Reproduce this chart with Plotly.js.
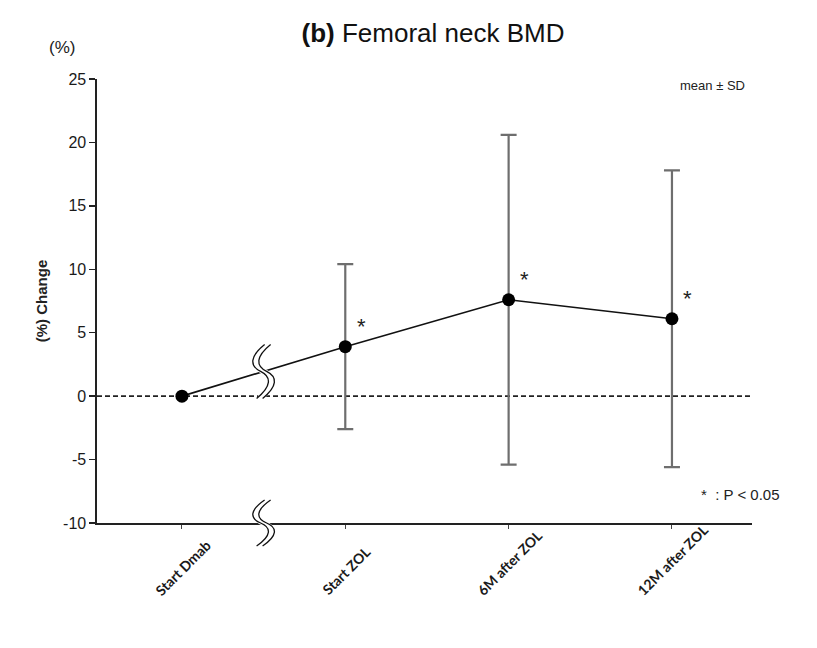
<!DOCTYPE html>
<html>
<head>
<meta charset="utf-8">
<script src="https://cdn.plot.ly/plotly-3.0.1.min.js"></script>
<style>
  html, body { margin: 0; padding: 0; background: #fff; }
  #chart { width: 817px; height: 648px; }
</style>
</head>
<body>
<div id="chart"></div>
<script>
// Time points and femoral neck BMD change (%), mean and SD
const categories = ['Start Dmab', 'Start ZOL', '6M after ZOL', '12M after ZOL'];
const positions = [0, 1, 2, 3];
const meanChange = [0, 3.9, 7.6, 6.1];
const sdChange = [0, 6.5, 13.0, 11.7];
const significant = [false, true, true, true];
const yTicks = [-10, -5, 0, 5, 10, 15, 20, 25];
const yTickText = ['-10', '-5', '0', '5', '10', '15', '20', '25'];

const FONT = 'Liberation Sans, Arial, sans-serif';
const LABEL_FONT = 'Lato, Liberation Sans, sans-serif';

// points that carry an SD bar (baseline has none)
const errIdx = positions.filter(i => sdChange[i] > 0);

const errorTrace = {
  x: errIdx.map(i => positions[i]),
  y: errIdx.map(i => meanChange[i]),
  type: 'scatter',
  mode: 'markers',
  marker: { color: 'rgba(0,0,0,0)', size: 1 },
  error_y: {
    type: 'data',
    array: errIdx.map(i => sdChange[i]),
    symmetric: true,
    color: '#6e6e6e',
    thickness: 2.2,
    width: 8
  },
  hoverinfo: 'skip',
  showlegend: false
};

const meanTrace = {
  x: positions,
  y: meanChange,
  type: 'scatter',
  mode: 'lines+markers',
  line: { color: '#111', width: 1.6 },
  marker: { color: '#000', size: 13 },
  showlegend: false
};

// double wavy axis-break symbol, drawn in pixels around an anchor point
function wave(dx, h) {
  const a = h / 2;
  return `M ${dx + 4},${a} C ${dx - 11},${a * 0.55} ${dx - 11},${a * 0.2} ${dx},0 ` +
         `C ${dx + 11},${-a * 0.2} ${dx + 11},${-a * 0.55} ${dx - 4},${-a}`;
}
function breakMark(xa, yref, ya, h) {
  const base = { type: 'path', xref: 'x', yref: yref, xsizemode: 'pixel', ysizemode: 'pixel',
                 xanchor: xa, yanchor: ya, layer: 'above' };
  return [
    Object.assign({}, base, { path: wave(0, h), line: { color: '#fff', width: 6 } }),
    Object.assign({}, base, { path: wave(-3, h), line: { color: '#111', width: 1.3 } }),
    Object.assign({}, base, { path: wave(3, h), line: { color: '#111', width: 1.3 } })
  ];
}

const breakX = (positions[0] + positions[1]) / 2;
const breakY = (meanChange[0] + meanChange[1]) / 2;

const shapes = [
  { type: 'line', xref: 'paper', yref: 'y', x0: 0, x1: 1, y0: 0, y1: 0,
    line: { color: '#222', width: 1.6, dash: '5px,3px' }, layer: 'below' },
  ...breakMark(breakX, 'y', breakY, 54),
  // on the x axis line itself (paper y = 0 keeps it from being clipped)
  ...breakMark(breakX, 'paper', 0, 46)
];

const annotations = positions.filter(i => significant[i]).map(i => ({
  x: positions[i], y: meanChange[i], xref: 'x', yref: 'y',
  text: '*', showarrow: false, xshift: 16, yshift: 20,
  font: { family: FONT, size: 22, color: '#222' }
}));

// slanted category labels, bottom-aligned below the axis
positions.forEach(i => {
  annotations.push({
    x: positions[i], y: 0, xref: 'x', yref: 'paper',
    text: categories[i], textangle: -45, showarrow: false,
    xanchor: 'center', yanchor: 'bottom', xshift: 1, yshift: -78,
    font: { family: LABEL_FONT, size: 14, color: '#1a1a1a', weight: 'bold' }
  });
});

annotations.push(
  { xref: 'paper', yref: 'paper', x: -0.053, y: 1.072, xanchor: 'center', yanchor: 'middle',
    text: '(%)', showarrow: false,
    font: { family: FONT, size: 17, color: '#222' } },
  { xref: 'paper', yref: 'paper', x: 0.939, y: 0.986, xanchor: 'center', yanchor: 'middle',
    text: 'mean ± SD', showarrow: false,
    font: { family: FONT, size: 13, color: '#222' } },
  { xref: 'paper', yref: 'paper', x: 0.982, y: 0.065, xanchor: 'center', yanchor: 'middle',
    text: '*  : P < 0.05', showarrow: false,
    font: { family: FONT, size: 15, color: '#222' } }
);

const layout = {
  width: 817,
  height: 648,
  margin: { l: 97, r: 65, t: 79, b: 125 },
  paper_bgcolor: '#fff',
  plot_bgcolor: '#fff',
  title: {
    text: '<b>(b)</b> Femoral neck BMD',
    x: 0.53, xanchor: 'center', y: 0.949, yanchor: 'middle',
    font: { family: FONT, size: 26, color: '#111' }
  },
  xaxis: {
    range: [-0.52, 3.49],
    tickvals: positions,
    showticklabels: false,
    ticks: 'outside', ticklen: 4, tickcolor: '#444', tickwidth: 1,
    showline: true, linecolor: '#222', linewidth: 2.2,
    showgrid: false, zeroline: false,
    fixedrange: true
  },
  yaxis: {
    range: [yTicks[0], yTicks[yTicks.length - 1]],
    tickvals: yTicks,
    ticktext: yTickText,
    ticks: 'outside', ticklen: 6, tickcolor: '#222', tickwidth: 1.4,
    showline: true, linecolor: '#222', linewidth: 1.6,
    showgrid: false, zeroline: false,
    tickfont: { family: FONT, size: 16, color: '#1a1a1a' },
    title: { text: '<b>(%) Change</b>', standoff: 12,
             font: { family: FONT, size: 15, color: '#222' } },
    fixedrange: true
  },
  shapes: shapes,
  annotations: annotations
};

Plotly.newPlot('chart', [errorTrace, meanTrace], layout, { displayModeBar: false, staticPlot: true });
</script>
</body>
</html>
